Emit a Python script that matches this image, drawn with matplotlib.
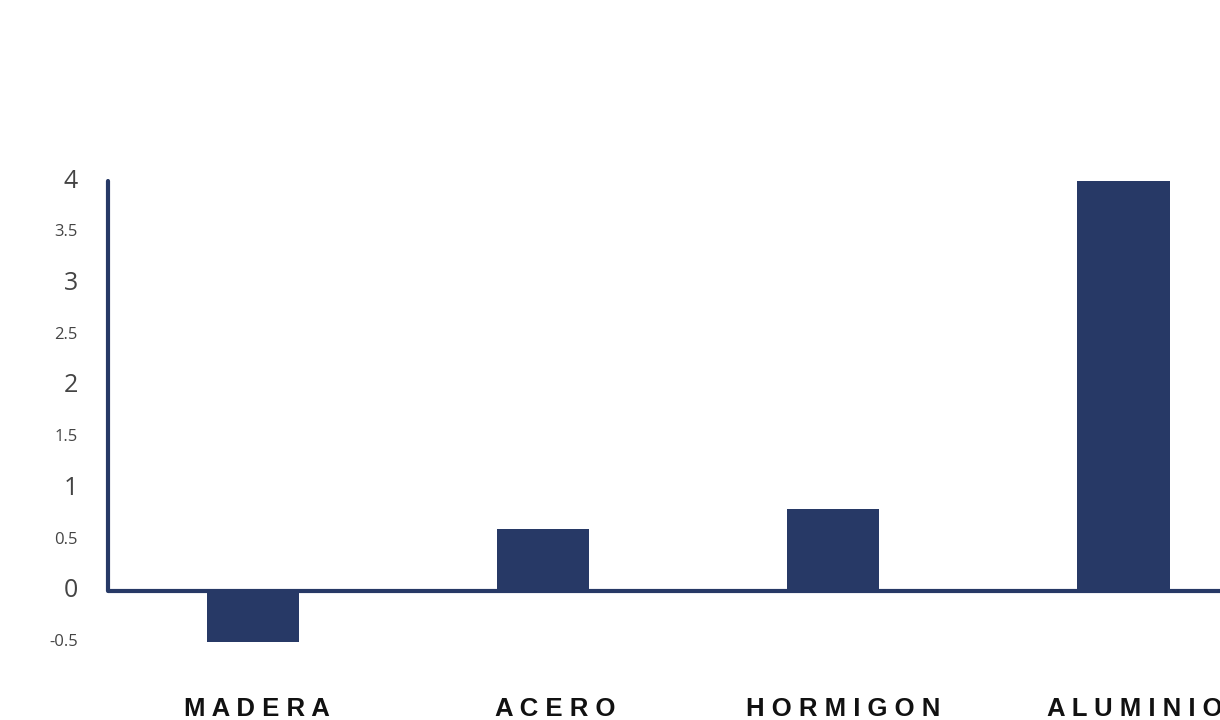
import matplotlib.pyplot as plt
import numpy as np

# data
materials = ["MADERA", "ACERO", "HORMIGON", "ALUMINIO"]
values = [-0.5, 0.6, 0.8, 4.0]
yticks = [-0.5, 0, 0.5, 1, 1.5, 2, 2.5, 3, 3.5, 4]

navy = "#273966"
x = np.arange(len(materials))

fig = plt.figure(figsize=(12.2, 7.2), dpi=100)
# axes placed so that y=4 sits at px 181 and y=-0.5 at px 642
ax = fig.add_axes([108 / 1220, 1 - 652.25 / 720, 1 - 108 / 1220, (652.25 - 175.9) / 720])

ax.bar(x, values, width=0.32, color=navy, zorder=2)

ax.set_xlim(-0.5, 3.334)
ax.set_ylim(-0.6, 4.05)

# zero line and left axis
ax.axhline(0, color=navy, lw=3, zorder=3, solid_capstyle="round")
for s in ["top", "right", "bottom"]:
    ax.spines[s].set_visible(False)
ax.spines["left"].set_bounds(0, 4)
ax.spines["left"].set_color(navy)
ax.spines["left"].set_linewidth(3)
ax.spines["left"].set_capstyle("round")

ax.set_xticks([])
ax.set_yticks(yticks)
ax.set_yticklabels([])
ax.tick_params(axis="y", length=0)

# tick labels: integers larger, halves smaller
for v in yticks:
    big = float(v).is_integer()
    lab = str(int(v)) if big else str(v)
    ax.text(-0.5 - 30 / 290, v, lab, ha="right", va="center",
            fontsize=18 if big else 12, color="#444444", family="Open Sans")

# category labels, letter-spaced
label_shift = [0.014, 0.041, 0.034, 0.041]
for i, name in enumerate(materials):
    ax.text(x[i] + label_shift[i], -1.15, " ".join(name), ha="center", va="center",
            fontsize=18.5, fontweight="bold", color="#111111",
            family="Liberation Sans", clip_on=False)

fig.savefig("out.png", dpi=100)
